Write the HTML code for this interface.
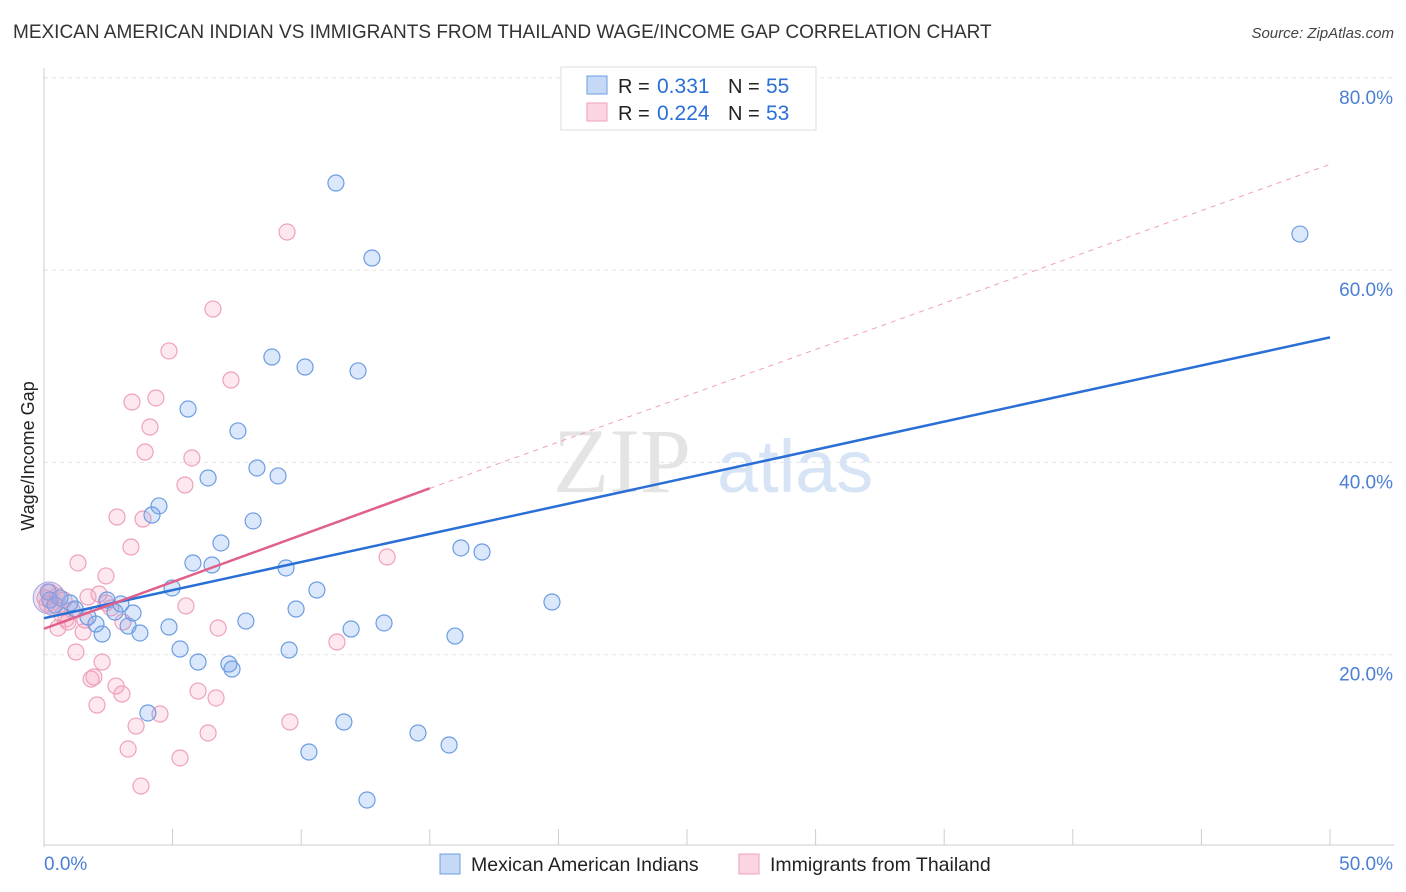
<!DOCTYPE html>
<html><head><meta charset="utf-8">
<style>
body{margin:0;background:#fff;font-family:"Liberation Sans",sans-serif;}
#wrap{position:relative;width:1406px;height:892px;overflow:hidden;}
.title{position:absolute;left:13px;top:22px;font-size:19px;color:#333;}
.src{position:absolute;right:12px;top:25px;font-size:15px;color:#444;font-style:italic;}
</style></head><body>
<div id="wrap">
<div class="title">MEXICAN AMERICAN INDIAN VS IMMIGRANTS FROM THAILAND WAGE/INCOME GAP CORRELATION CHART</div>
<div class="src">Source: ZipAtlas.com</div>
<svg id="svg" width="1406" height="892" style="position:absolute;left:0;top:0"></svg>
</div>
<script>
const xTicks=[0,5,10,15,20,25,30,35,40,45,50];
const yTicks=[20,40,60,80];
const yTickLabels=["20.0%","40.0%","60.0%","80.0%"];
const bluePx=[[336,183],[372,258],[1300,234],[272,357],[305,367],[358,371],[188,409],[238,431],[257,468],[278,476],[208,478],[159,506],[152,515],[253,521],[221,543],[193,563],[212,565],[286,568],[461,548],[482,552],[172,588],[317,590],[552,602],[296,609],[246,621],[384,623],[351,629],[169,627],[455,636],[140,633],[102,634],[180,649],[289,650],[198,662],[229,664],[232,669],[148,713],[344,722],[418,733],[449,745],[309,752],[367,800],[107,600],[121,604],[133,613],[88,617],[96,624],[128,626],[75,609],[70,603],[55,605],[50,600],[48,592],[60,598],[115,612]];
const pinkPx=[[287,232],[213,309],[169,351],[231,380],[156,398],[132,402],[150,427],[145,452],[192,458],[185,485],[117,517],[143,519],[131,547],[78,563],[106,576],[387,557],[186,606],[99,594],[88,597],[106,603],[123,622],[218,628],[83,632],[337,642],[76,652],[102,662],[91,679],[94,677],[116,686],[198,691],[122,694],[216,698],[97,705],[290,722],[136,726],[160,714],[208,733],[128,749],[180,758],[141,786],[57,596],[50,592],[62,615],[68,622],[58,628],[85,620],[64,600],[72,610],[47,604],[111,608],[53,608],[45,598],[66,619]];
const blueX=bluePx.map(p=>+((p[0]-44)/1286*50).toFixed(2));
const blueY=bluePx.map(p=>+((847-p[1])/192.3*20).toFixed(2));
const pinkX=pinkPx.map(p=>+((p[0]-44)/1286*50).toFixed(2));
const pinkY=pinkPx.map(p=>+((847-p[1])/192.3*20).toFixed(2));
const blueTrend=[[0,23.8],[50,53.0]];
const pinkTrend=[[0,22.7],[15,37.3]];
const pinkDash=[[15,37.3],[50,71.0]];

const X=v=>44+v/50*1286, Y=v=>847-v/20*192.3;
const svg=document.getElementById('svg');const NS='http://www.w3.org/2000/svg';
function mk(t,a,p){const e=document.createElementNS(NS,t);for(const k in a)e.setAttribute(k,a[k]);(p||svg).appendChild(e);return e;}
yTicks.forEach((t,i)=>{
 const g=mk('line',{x1:44,x2:1394,y1:Y(t),y2:Y(t),stroke:'#e4e4e4','stroke-dasharray':'4,4'});
 
 
 const l=mk('text',{x:1393,y:Y(t)+26,'text-anchor':'end','font-size':19,fill:'#4a7fd4'});l.textContent=yTickLabels[i];
 
 
});
mk('line',{x1:44,x2:44,y1:68,y2:847,stroke:'#ccc'});
mk('line',{x1:44,x2:1394,y1:845,y2:845,stroke:'#ccc'});
xTicks.forEach(t=>{const e=mk('line',{x1:X(t),x2:X(t),y1:829,y2:845,stroke:'#ccc'});
 
 });
let t=mk('text',{x:44,y:870,'font-size':19,fill:'#4a7fd4'});t.textContent='0.0%';

t=mk('text',{x:1393,y:870,'text-anchor':'end','font-size':19,fill:'#4a7fd4'});t.textContent='50.0%';

t=mk('text',{x:34,y:456,'text-anchor':'middle','font-size':18,fill:'#222',transform:'rotate(-90 34 456)'});t.textContent='Wage/Income Gap';

t=mk('text',{x:553,y:492,'font-size':92,fill:'#e4e4e4','font-family':'Liberation Serif'});t.textContent='ZIP';

t=mk('text',{x:717,y:492,'font-size':74,fill:'#d6e4f6'});t.textContent='atlas';

function pts(xs,ys,fill,stroke,name){xs.forEach((x,i)=>{const c=mk('circle',{cx:X(x),cy:Y(ys[i]),r:8,fill:fill,stroke:stroke,'stroke-width':1.2});
 
 });}
pts(pinkX,pinkY,'rgba(244,150,180,0.22)','#efa1ba','pink-point');
pts(blueX,blueY,'rgba(110,160,235,0.25)','#6c9de2','blue-point');
mk('circle',{cx:X(0.2),cy:Y(25.9),r:16,fill:'rgba(200,160,210,0.35)',stroke:'#9aa9e0'});
let ln=mk('line',{x1:X(pinkDash[0][0]),y1:Y(pinkDash[0][1]),x2:X(pinkDash[1][0]),y2:Y(pinkDash[1][1]),stroke:'#eea0b8','stroke-dasharray':'5,5'});

ln=mk('line',{x1:X(blueTrend[0][0]),y1:Y(blueTrend[0][1]),x2:X(blueTrend[1][0]),y2:Y(blueTrend[1][1]),stroke:'#2a6fd6','stroke-width':2.5});

ln=mk('line',{x1:X(pinkTrend[0][0]),y1:Y(pinkTrend[0][1]),x2:X(pinkTrend[1][0]),y2:Y(pinkTrend[1][1]),stroke:'#e0608a','stroke-width':2.5});

const lg=mk('rect',{x:561,y:67,width:255,height:63,fill:'#fff',stroke:'#ddd'});

mk('rect',{x:587,y:76,width:20,height:18,fill:'rgba(110,160,235,0.4)',stroke:'#6c9de2'});
mk('rect',{x:587,y:103,width:20,height:18,fill:'rgba(244,150,180,0.4)',stroke:'#efa1ba'});
[[93,'0.331','55'],[120,'0.224','53']].forEach(r=>{
 let a=mk('text',{x:618,y:r[0],'font-size':20,fill:'#222'});a.textContent='R = ';
 a=mk('text',{x:657,y:r[0],'font-size':21,fill:'#2a6fd6'});a.textContent=r[1];
 
 a=mk('text',{x:728,y:r[0],'font-size':20,fill:'#222'});a.textContent='N = ';
 a=mk('text',{x:766,y:r[0],'font-size':21,fill:'#2a6fd6'});a.textContent=r[2];
 
});
mk('rect',{x:440,y:854,width:20,height:20,fill:'rgba(110,160,235,0.4)',stroke:'#6c9de2'});
t=mk('text',{x:471,y:871,'font-size':19.5,fill:'#222'});t.textContent='Mexican American Indians';


mk('rect',{x:739,y:854,width:20,height:20,fill:'rgba(244,150,180,0.4)',stroke:'#efa1ba'});
t=mk('text',{x:770,y:871,'font-size':19.5,fill:'#222'});t.textContent='Immigrants from Thailand';


</script>
</body></html>
